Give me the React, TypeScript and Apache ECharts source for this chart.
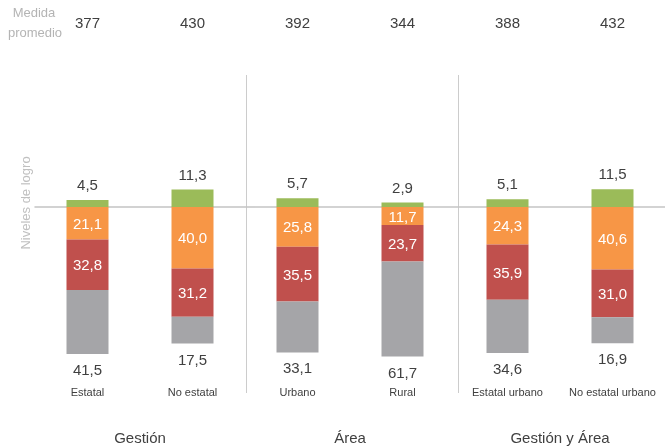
import React, { useEffect, useRef } from "react";
import * as echarts from "echarts";

const categories = ["Estatal", "No estatal", "Urbano", "Rural", "Estatal urbano", "No estatal urbano"];
const groups = ["Gestión", "Área", "Gestión y Área"];
const means = ["377", "430", "392", "344", "388", "432"];
const green = [4.5, 11.3, 5.7, 2.9, 5.1, 11.5];
const orange = [21.1, 40.0, 25.8, 11.7, 24.3, 40.6];
const red = [32.8, 31.2, 35.5, 23.7, 35.9, 31.0];
const gray = [41.5, 17.5, 33.1, 61.7, 34.6, 16.9];

const FONT = "Liberation Sans, Arial, sans-serif";
const fmt = (v: number) => Math.abs(v).toFixed(1).replace(".", ",");

export default function App() {
  const ref = useRef<HTMLDivElement>(null);
  useEffect(() => {
    if (!ref.current) return;
    const chart = echarts.init(ref.current, null, { renderer: "svg" });
    const barW = 42;
    const mk = (name: string, data: number[], color: string, pos: string, labelColor: string, dist = 5) => ({
      name,
      type: "bar",
      stack: "all",
      xAxisIndex: 0,
      yAxisIndex: 0,
      barWidth: barW,
      data,
      itemStyle: { color },
      label: {
        show: true,
        position: pos,
        distance: dist,
        color: labelColor,
        fontSize: 15,
        fontFamily: FONT,
        formatter: (p: any) => fmt(p.value),
      },
    });
    chart.setOption({
      animation: false,
      textStyle: { fontFamily: FONT },
      grid: { left: 35, top: 145.4, width: 636, height: 215.6, containLabel: false },
      xAxis: [
        {
          type: "category",
          position: "bottom",
          data: categories,
          axisLine: { show: false, onZero: false },
          axisTick: { show: false },
          axisLabel: { color: "#404040", fontSize: 11, margin: 25, fontFamily: FONT, interval: 0 },
        },
        {
          type: "category",
          position: "top",
          offset: 107,
          data: means,
          axisLine: { show: false, onZero: false },
          axisTick: { show: false },
          axisLabel: { color: "#404040", fontSize: 15, margin: 8, fontFamily: FONT, interval: 0 },
        },
        {
          type: "category",
          position: "bottom",
          offset: 60,
          data: groups,
          axisLine: { show: false, onZero: false },
          axisTick: { show: false },
          axisLabel: { color: "#404040", fontSize: 15, margin: 8.5, fontFamily: FONT, interval: 0 },
        },
        {
          type: "category",
          position: "bottom",
          data: categories,
          axisLine: { show: true, onZero: true, lineStyle: { color: "#c4c4c4", width: 1.5 } },
          axisTick: { show: false },
          axisLabel: { show: false },
        },
      ],
      yAxis: {
        type: "value",
        min: -100,
        max: 40,
        show: false,
        splitLine: { show: false },
      },
      graphic: [
        { type: "line", shape: { x1: 246.5, y1: 75, x2: 246.5, y2: 393 }, style: { stroke: "#cccccc", lineWidth: 1 } },
        { type: "line", shape: { x1: 458.5, y1: 75, x2: 458.5, y2: 393 }, style: { stroke: "#cccccc", lineWidth: 1 } },
        {
          type: "text",
          x: 25,
          y: 203,
          rotation: Math.PI / 2,
          style: { text: "Niveles de logro", fill: "#c0c0c0", fontSize: 13, fontFamily: FONT, align: "center", verticalAlign: "middle" },
        },
        {
          type: "text",
          x: 34,
          y: 12,
          style: { text: "Medida", fill: "#b4b4b4", fontSize: 13, fontFamily: FONT, align: "center", verticalAlign: "middle" },
        },
        {
          type: "text",
          x: 35,
          y: 32,
          style: { text: "promedio", fill: "#b4b4b4", fontSize: 13, fontFamily: FONT, align: "center", verticalAlign: "middle" },
        },
      ],
      series: [
        mk("green", green, "#9BBB59", "top", "#404040", 8),
        mk("orange", orange.map((v) => -v), "#F79646", "inside", "#ffffff"),
        mk("red", red.map((v) => -v), "#C0504D", "inside", "#ffffff"),
        mk("gray", gray.map((v) => -v), "#A5A5A8", "bottom", "#404040", 8),
      ],
    });
    return () => chart.dispose();
  }, []);
  return <div ref={ref} style={{ width: 665, height: 446, position: "fixed", left: 0, top: 0 }} />;
}
